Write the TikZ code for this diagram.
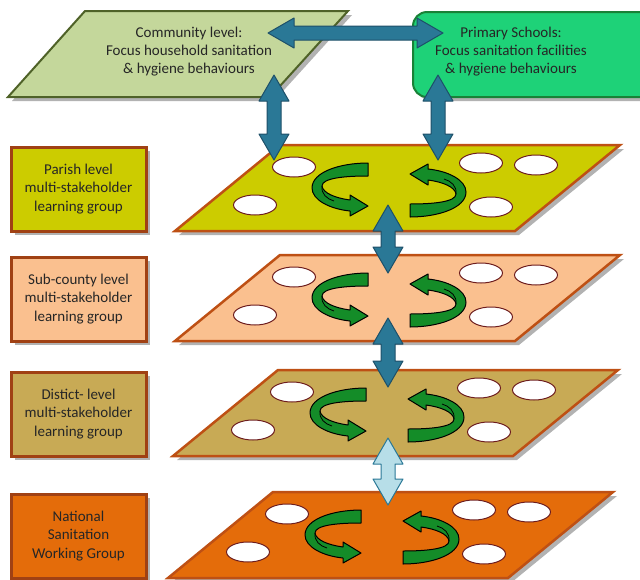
\documentclass[tikz,border=0pt]{standalone}
\usepackage{fontspec}
\setmainfont{Carlito}
\usetikzlibrary{positioning,shapes.geometric,shadows,calc}

\definecolor{commgreen}{RGB}{196,215,155}
\definecolor{commline}{RGB}{79,98,40}
\definecolor{schoolgreen}{RGB}{30,210,120}
\definecolor{schoolline}{RGB}{25,130,55}
\definecolor{parishcol}{RGB}{204,204,0}
\definecolor{subcol}{RGB}{250,192,143}
\definecolor{distcol}{RGB}{200,170,85}
\definecolor{natcol}{RGB}{228,108,10}
\definecolor{layerline}{RGB}{190,80,20}
\definecolor{boxline}{RGB}{160,65,20}
\definecolor{linkblue}{RGB}{42,120,150}
\definecolor{linkline}{RGB}{30,80,105}
\definecolor{linklight}{RGB}{183,222,232}
\definecolor{swirlgreen}{RGB}{20,140,40}
\definecolor{spotline}{RGB}{110,30,30}

\tikzset{
  swirl/.pic={
    \path[swirlfill] (-21,-27) .. controls (-49,-27) and (-77,-18) .. (-77,-2)
      .. controls (-77,10) and (-59,19) .. (-39,21)
      -- (-39,26) -- (-21,16) -- (-39,5) -- (-39,10)
      .. controls (-54,8) and (-66,3) .. (-67,-4)
      .. controls (-67,-12) and (-44,-14) .. (-21,-14) -- cycle;
    \draw[swirlline] (-67,-4) .. controls (-68,4) and (-62,9) .. (-55,11);
  },
  fat/.style={to path={
    ($(\tikztostart)!26pt!(\tikztotarget)$) coordinate (fatA)
    ($(\tikztotarget)!26pt!(\tikztostart)$) coordinate (fatB)
    (\tikztostart) -- ($(fatA)!15pt!90:(\tikztotarget)$) -- ($(fatA)!7pt!90:(\tikztotarget)$)
    -- ($(fatB)!7pt!-90:(\tikztostart)$) -- ($(fatB)!15pt!-90:(\tikztostart)$) -- (\tikztotarget)
    -- ($(fatB)!15pt!90:(\tikztostart)$) -- ($(fatB)!7pt!90:(\tikztostart)$)
    -- ($(fatA)!7pt!-90:(\tikztotarget)$) -- ($(fatA)!15pt!-90:(\tikztotarget)$) -- cycle
  }}
}

\begin{document}
\begin{tikzpicture}[
    x=1pt,y=-1pt,
    font=\fontsize{15}{18}\selectfont,
    shade/.style={drop shadow={shadow xshift=4pt,shadow yshift=-4pt,fill=black,opacity=.3}},
    layer/.style={draw=layerline,line width=2.5pt,line join=miter,shade},
    group/.style={draw=boxline,line width=3pt,minimum width=135pt,minimum height=84pt,
      align=center,text=black!85,font=\fontsize{15}{18.5}\selectfont,shade},
    spot/.style={ellipse,draw=spotline,fill=white,line width=1pt,minimum width=43pt,minimum height=20pt,inner sep=0pt},
    swirlfill/.style={fill=swirlgreen,draw=black,line width=1pt,line join=round},
    swirlline/.style={draw=black,line width=.8pt},
    link/.style={fat,fill=linkblue,draw=linkline,line width=1pt,line join=round},
    lightlink/.style={fat,fill=linklight,draw=linkblue,line width=1pt,line join=round}
  ]
  \clip (0,0) rectangle (640,579);

  % top level
  \draw[fill=commgreen,draw=commline,line width=2pt,shade] (85,11) -- (348,11) -- (270,97) -- (8,97) -- cycle;
  \node[align=center,text=black!85] (comm) at (189,52) {Community level:\\Focus household sanitation\\\& hygiene behaviours};
  \node[draw=schoolline,fill=schoolgreen,line width=2pt,rounded corners=14pt,minimum width=250pt,
    minimum height=85pt,shade] (school) at (538,54.5) {};
  \node[align=center,text=black!85] (schooltext) at (511,52) {Primary Schools:\\Focus sanitation facilities\\\& hygiene behaviours};

  % learning group layers
  \foreach \name/\top/\dx/\col/\txt in {
    parish/145/0/parishcol/{Parish level\\multi-stakeholder\\learning group},
    sub/255/0/subcol/{Sub-county level\\multi-stakeholder\\learning group},
    dist/370/-2/distcol/{Distict- level\\multi-stakeholder\\learning group},
    nat/492/-7/natcol/{National\\Sanitation\\Working Group}}
  {
    \draw[layer,fill=\col] ({280+(\dx)},\top) -- ({620+(\dx)},\top) -- ({515+(\dx)},{\top+86})
      -- ({175+(\dx)},{\top+86}) -- cycle;
    \node[spot] (\name-e1) at ({294+(\dx)},{\top+22}) {};
    \node[spot] (\name-e2) at ({255+(\dx)},{\top+60}) {};
    \node[spot] (\name-e3) at ({481+(\dx)},{\top+18}) {};
    \node[spot] (\name-e4) at ({536+(\dx)},{\top+20}) {};
    \node[spot] (\name-e5) at ({491+(\dx)},{\top+62}) {};
    \pic at ({389+(\dx)},{\top+45}) {swirl};
    \pic[rotate=180] at ({389+(\dx)},{\top+45}) {swirl};
    \node[group,fill=\col] (\name-box) at (78.5,{\top+44}) {\txt};
  }

  % links
  \coordinate (hA) at (268,33);
  \coordinate (hB) at (443,33);
  \coordinate (vA) at (274,75);
  \coordinate (vB) at (274,160);
  \coordinate (wA) at (438,75);
  \coordinate (wB) at (438,160);
  \coordinate (c1) at (388,205);
  \coordinate (c2) at (388,273);
  \coordinate (c3) at (388,318);
  \coordinate (c4) at (388,387);
  \coordinate (c5) at (388,438);
  \coordinate (c6) at (388,505);

  \draw[link] (hA) to (hB);
  \draw[link] (vA) to (vB);
  \draw[link] (wA) to (wB);
  \draw[link] (c1) to (c2);
  \draw[link] (c3) to (c4);
  \draw[lightlink] (c5) to (c6);
\end{tikzpicture}
\end{document}
